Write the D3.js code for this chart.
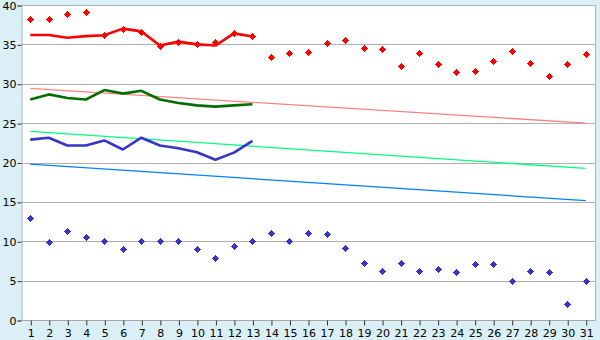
<!DOCTYPE html>
<html>
<head>
<meta charset="utf-8">
<script src="https://cdn.jsdelivr.net/npm/d3@7"></script>
<style>
  body { margin: 0; background: #daf0f6; }
  svg { display: block; font-family: "DejaVu Sans", Verdana, sans-serif; }
</style>
</head>
<body>
<svg id="chart"></svg>
<script>
const days = d3.range(1, 32);
const yTicks = [0, 5, 10, 15, 20, 25, 30, 35, 40];

// scatter series, one value per day
const redPoints = [38.2, 38.2, 38.8, 39.1, 36.15, 37.0, 36.6, 34.85, 35.35, 35.0,
  35.25, 36.4, 36.0, 33.45, 33.85, 34.0, 35.15, 35.5, 34.6, 34.35,
  32.2, 33.85, 32.45, 31.45, 31.6, 32.95, 34.1, 32.6, 30.95, 32.45, 33.75];
const bluePoints = [12.9, 9.85, 11.25, 10.5, 10, 9, 10, 10, 10, 9,
  7.85, 9.35, 10, 11, 10, 11.1, 10.9, 9.2, 7.2, 6.2,
  7.2, 6.2, 6.45, 6.05, 7.1, 7.1, 5, 6.2, 6.05, 2, 5];

// line series, days 1 to 13
const redLine = [36.2, 36.2, 35.85, 36.05, 36.15, 37.0, 36.65, 34.85, 35.35, 35.0, 34.85, 36.4, 36.0];
const greenLine = [28.0, 28.65, 28.2, 28.0, 29.2, 28.75, 29.1, 28.0, 27.55, 27.25, 27.1, 27.25, 27.4];
const blueLine = [22.9, 23.15, 22.15, 22.15, 22.8, 21.65, 23.15, 22.15, 21.8, 21.3, 20.35, 21.25, 22.75];

// trend lines, start and end
const trendDays = [1, 31];
const pinkTrend = [29.4, 25.0];
const mintTrend = [23.95, 19.25];
const skyTrend = [19.8, 15.15];

const width = 600, height = 340;
const m = {left: 21, right: 595, top: 5, bottom: 320};

const svg = d3.select('#chart')
  .attr('width', width)
  .attr('height', height);

svg.append('rect')
  .attr('x', m.left).attr('y', m.top)
  .attr('width', m.right - m.left).attr('height', m.bottom - m.top)
  .attr('fill', '#ffffff');

const x = d3.scalePoint().domain(days).range([m.left, m.right]).padding(0.5);
const y = d3.scaleLinear().domain([0, 40]).range([m.bottom, m.top]);

// grid
svg.append('g')
  .selectAll('line')
  .data(yTicks.filter(d => d > 0))
  .join('line')
  .attr('x1', m.left).attr('x2', m.right)
  .attr('y1', d => Math.round(y(d)) + 0.5)
  .attr('y2', d => Math.round(y(d)) + 0.5)
  .attr('stroke', '#b0b0b0')
  .attr('stroke-width', 1);

// right border
svg.append('line')
  .attr('x1', m.right + 0.5).attr('x2', m.right + 0.5)
  .attr('y1', m.top).attr('y2', m.bottom)
  .attr('stroke', '#b0b0b0');

// axes
const yAxis = svg.append('g')
  .attr('transform', `translate(${m.left + 0.5},0.5)`)
  .call(d3.axisLeft(y).tickValues(yTicks).tickSize(4).tickPadding(1))
  .attr('font-family', null)
  .attr('font-size', 11);
yAxis.select('.domain').attr('stroke', '#a8a8a8');
yAxis.selectAll('.tick line').attr('stroke', '#333');
yAxis.selectAll('.tick text').attr('fill', '#000');

const xAxis = svg.append('g')
  .attr('transform', `translate(0.5,${m.bottom + 0.5})`)
  .call(d3.axisBottom(x).tickSize(5).tickPadding(4))
  .attr('font-family', null)
  .attr('font-size', 11);
xAxis.select('.domain').attr('stroke', '#a8a8a8').attr('d', `M${m.left},0H${m.right}`);
xAxis.selectAll('.tick line').attr('stroke', '#333');
xAxis.selectAll('.tick text').attr('fill', '#000');

// trend lines
const trend = d3.line().x((d, i) => x(trendDays[i])).y(d => y(d));
[[pinkTrend, '#ff8080'], [mintTrend, '#00ff80'], [skyTrend, '#0080ff']].forEach(([vals, col]) => {
  svg.append('path')
    .attr('d', trend(vals))
    .attr('fill', 'none')
    .attr('stroke', col)
    .attr('stroke-width', 1.3);
});

// data lines
const line = d3.line().x((d, i) => x(days[i])).y(d => y(d));
[[redLine, '#ff0000'], [greenLine, '#006e00'], [blueLine, '#3535c8']].forEach(([vals, col]) => {
  svg.append('path')
    .attr('d', line(vals))
    .attr('fill', 'none')
    .attr('stroke', col)
    .attr('stroke-width', 2.6)
    .attr('stroke-linejoin', 'round');
});

// markers: chunky plus with thin tips, 7px across, snapped to the pixel grid
const marker = 'M-1.5,-2.5h3v5h-3z M-2.5,-1.5h5v3h-5z M-0.5,-3.5h1v7h-1z M-3.5,-0.5h7v1h-7z';
[[redPoints, '#ff0000'], [bluePoints, '#3535c8']].forEach(([vals, col]) => {
  svg.append('g')
    .attr('shape-rendering', 'crispEdges')
    .selectAll('path')
    .data(vals)
    .join('path')
    .attr('transform', (d, i) => `translate(${Math.round(x(days[i])) + 0.5},${Math.round(y(d)) + 0.5})`)
    .attr('d', marker)
    .attr('fill', col);
});
</script>
</body>
</html>
